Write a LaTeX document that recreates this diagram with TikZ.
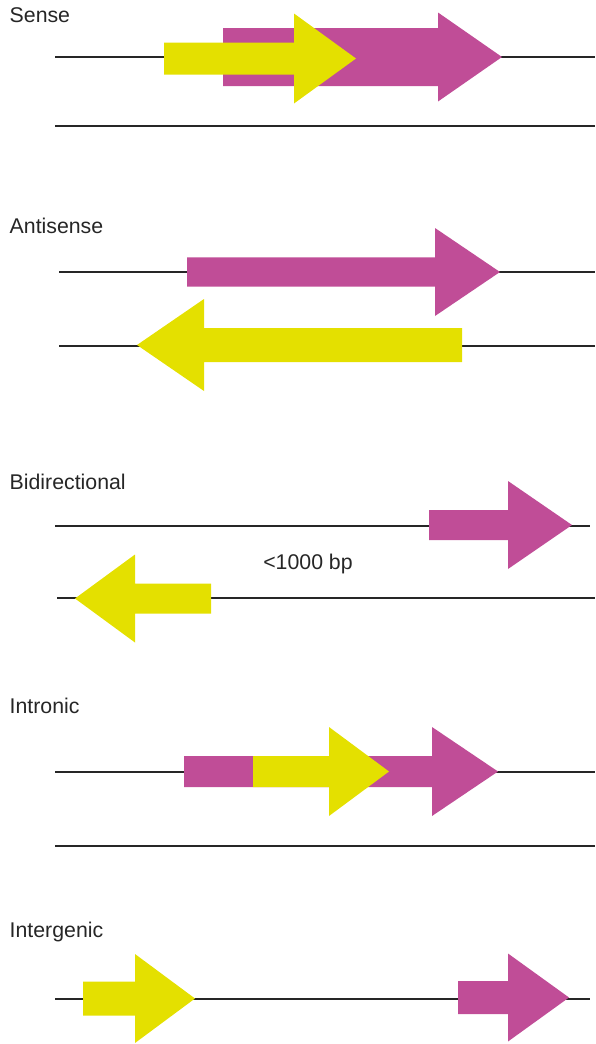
\documentclass[tikz,border=0pt]{standalone}
\usepackage{fontspec}
\setmainfont{Liberation Sans}
\usepackage{tikz}

\definecolor{genepink}{RGB}{192,77,151}
\definecolor{geneyellow}{RGB}{228,224,0}

% gene arrow: colour, start x, head base x, tip x, centre y, body half width, head half width
\newcommand{\genearrow}[7]{%
  \fill[#1] (#2,#5-#6) -- (#3,#5-#6) -- (#3,#5-#7) -- (#4,#5)
        -- (#3,#5+#7) -- (#3,#5+#6) -- (#2,#5+#6) -- cycle;}

\tikzset{
  strand/.style={line width=1.2pt, black!85},
  caption/.style={anchor=base west, inner sep=0pt, font=\fontsize{21.3}{25}\selectfont, text=black!85}
}

\begin{document}
\begin{tikzpicture}[x=1pt,y=-1pt]
        \useasboundingbox (0,0) rectangle (595,1044);

        % Sense
        \node[caption] (sense) at (9.5,23) {Sense};
        \draw[strand] (55,57) -- (595,57);
        \draw[strand] (55,126) -- (595,126);
        \genearrow{genepink}{223}{438}{502}{57}{29}{44.5}
        \genearrow{geneyellow}{164}{294}{356}{58.5}{16}{45}

        % Antisense
        \node[caption] (antisense) at (9.5,233.5) {Antisense};
        \draw[strand] (59,272) -- (595,272);
        \draw[strand] (59,346) -- (595,346);
        \genearrow{genepink}{187}{435}{500}{272}{14.7}{44}
        \genearrow{geneyellow}{462}{204}{137}{345}{17}{46}

        % Bidirectional
        \node[caption] (bidir) at (9.5,489.5) {Bidirectional};
        \draw[strand] (55,526) -- (590,526);
        \draw[strand] (57,598) -- (595,598);
        \genearrow{genepink}{429}{508}{572}{525}{15}{44}
        \genearrow{geneyellow}{211}{135}{75}{598.5}{15}{44}
        \node[caption, anchor=base] (dist) at (308,569) {<1000 bp};

        % Intronic
        \node[caption] (intronic) at (9.5,713) {Intronic};
        \draw[strand] (55,772) -- (595,772);
        \draw[strand] (55,846) -- (595,846);
        \genearrow{genepink}{184}{432}{498}{771.5}{15.5}{44.5}
        \genearrow{geneyellow}{253}{329}{389}{771.5}{15.5}{44.5}

        % Intergenic
        \node[caption] (intergenic) at (9.5,937) {Intergenic};
        \draw[strand] (55,999) -- (590,999);
        \genearrow{geneyellow}{83}{135}{195}{998.5}{17}{44.5}
        \genearrow{genepink}{458}{508}{569}{997.5}{16.5}{44}
\end{tikzpicture}
\end{document}
